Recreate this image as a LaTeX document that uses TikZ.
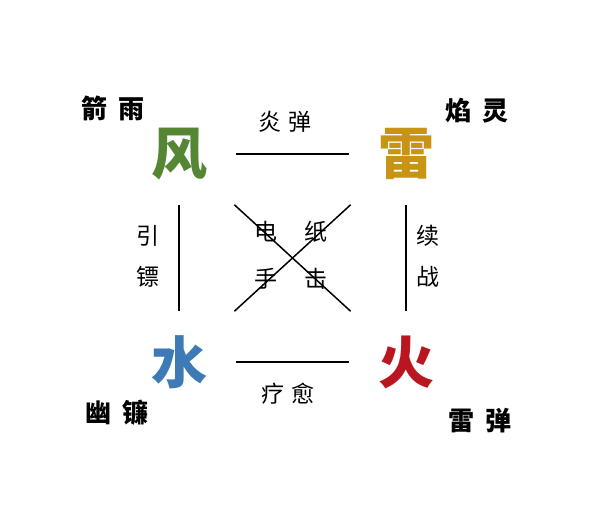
\documentclass[tikz,border=0pt]{standalone}
\usepackage{fontspec}
\newfontfamily\cjk{Noto Sans CJK SC}
\usetikzlibrary{positioning}
\definecolor{fenggreen}{RGB}{84,134,52}
\definecolor{leigold}{RGB}{200,148,22}
\definecolor{shuiblue}{RGB}{62,122,182}
\definecolor{huored}{RGB}{186,22,32}

\begin{document}
\begin{tikzpicture}[x=0.5pt,y=-0.5pt,line width=0.75pt,node distance=20.5pt]
  \tikzstyle{elem}=[minimum width=56pt,minimum height=50pt,inner sep=0pt,
                    font=\cjk\bfseries\fontsize{28}{28}\selectfont]
  \tikzstyle{corner}=[inner sep=0pt,font=\cjk\bfseries\fontsize{13}{13}\selectfont]
  \tikzstyle{lbl}=[inner sep=0pt,font=\cjk\fontsize{11.5}{11.5}\selectfont]
  \useasboundingbox (0,0) rectangle (600,530);

  % the four elements
  \node[elem,text=fenggreen] (F) at (179,154) {风};
  \node[elem,text=leigold]   (L) at (406,154) {雷};
  \node[elem,text=shuiblue]  (S) at (179,362) {水};
  \node[elem,text=huored]    (H) at (406,362) {火};

  \path (F) edge (L)
        (S) edge (H)
        (F) edge (S)
        (L) edge (H)
        (F) edge (H)
        (L) edge (S);

  % corner names
  \node[corner] (jy) at (113,108) {箭\kern6pt 雨};
  \node[corner] (yl) at (477,111) {焰\kern6pt 灵};
  \node[corner] (yml) at (117,413) {幽\kern6pt 镰};
  \node[corner] (ld) at (480,421) {雷\kern6pt 弹};

  % edge labels
  \node[lbl] (yd) at (285,122) {炎\kern4pt 弹};
  \node[lbl] (ly) at (288,394) {疗\kern4pt 愈};
  \node[lbl] (yin) at (148,236) {引};
  \node[lbl] (biao) [below of=yin] {镖};
  \node[lbl] (xu) at (428,236) {续};
  \node[lbl] (zhan) [below of=xu] {战};
  \node[lbl] (dian) at (266,232) {电};
  \node[lbl] (zhi) at (316,232) {纸};
  \node[lbl] (shou) [below of=dian,yshift=-3pt] {手};
  \node[lbl] (ji) [below of=zhi,yshift=-3pt] {击};
\end{tikzpicture}
\end{document}
